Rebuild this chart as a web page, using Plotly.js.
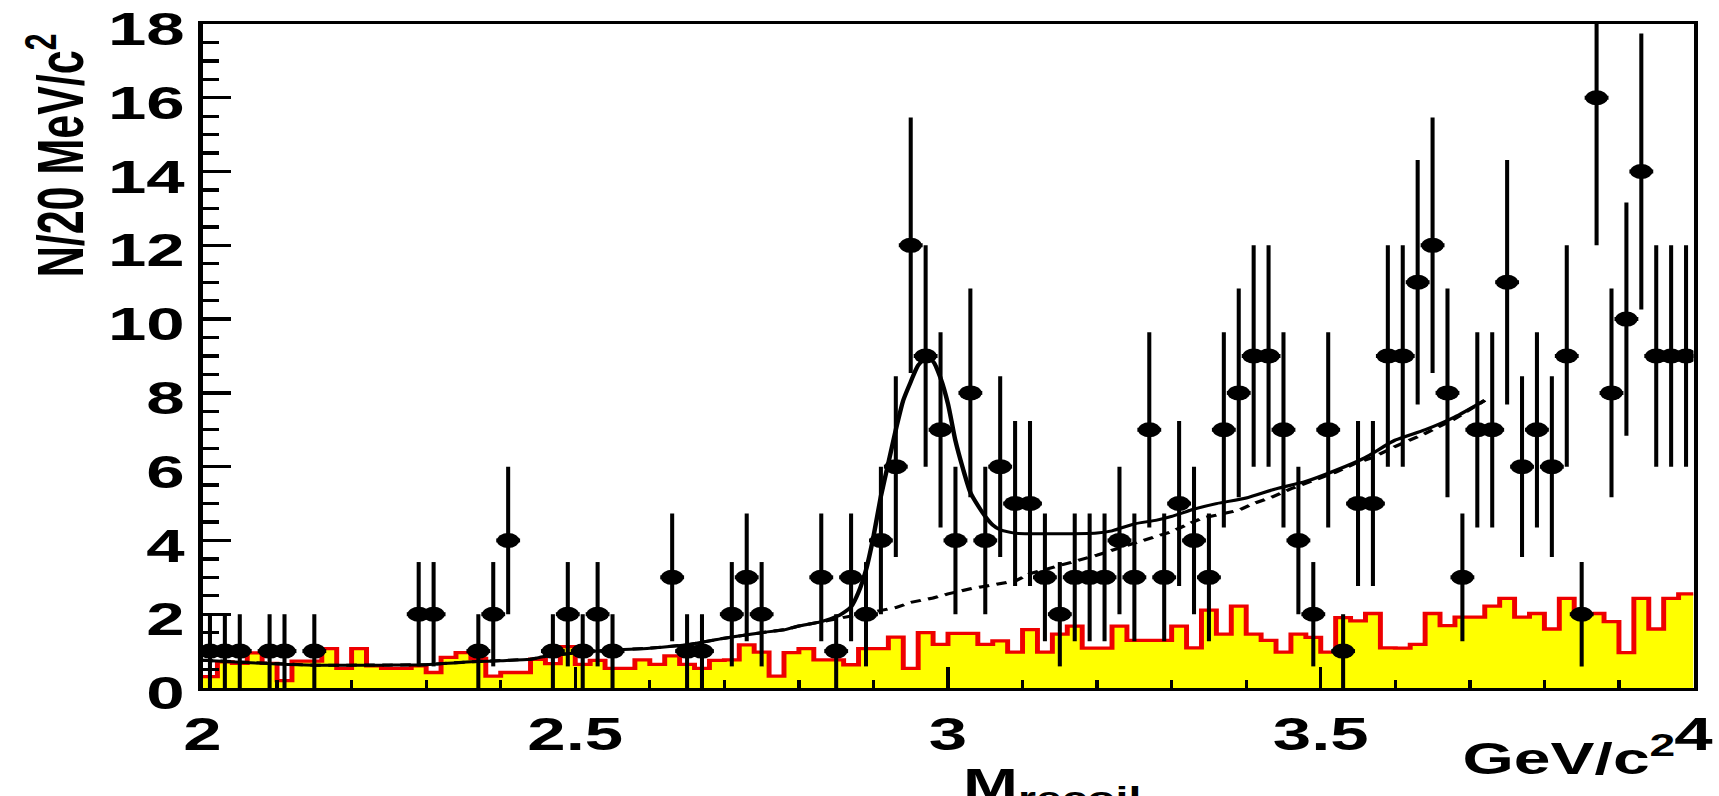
<!DOCTYPE html>
<html>
<head>
<meta charset="utf-8">
<script src="https://cdn.plot.ly/plotly-3.0.1.min.js"></script>
<style>
  html, body { margin: 0; padding: 0; background: #ffffff; overflow: hidden; }
  #wrap { width: 1719px; height: 796px; overflow: hidden; }
  #plot { width: 1146px; height: 796px; transform: scaleX(1.5); transform-origin: 0 0; }
</style>
</head>
<body>
<div id="wrap"><div id="plot"></div></div>
<script>
// ---- binning (20 MeV bins from 2.0 to 4.0 GeV/c^2) ----
const binLow = 2.0;
const binWidth = 0.02;

// ---- data: events per 20 MeV bin ----
const dataCounts = [
  1,1,1,0,1,1,0,1,0,0,
  0,0,0,0,2,2,0,0,1,2,
  4,0,0,1,2,1,2,1,0,0,
  0,3,1,1,0,2,3,2,0,0,
  0,3,1,3,2,4,6,12,9,7,
  4,8,4,6,5,5,3,2,3,3,
  3,4,3,7,3,5,4,3,7,8,
  9,9,7,4,2,7,1,5,5,9,
  9,11,12,8,3,7,7,11,6,7,
  6,9,2,16,8,10,14,9,9,9
];

// ---- yellow histogram (background estimate) per bin ----
const bkgHist = [
  0.31,0.71,0.67,0.95,0.67,0.20,0.73,0.73,1.07,0.53,
  1.07,0.60,0.53,0.53,0.60,0.42,0.83,0.96,0.80,0.32,
  0.42,0.42,0.78,0.66,1.12,0.64,0.75,0.53,0.53,0.76,
  0.64,0.87,0.64,0.53,0.75,0.76,1.17,0.97,0.32,0.96,
  1.07,0.76,0.76,0.63,1.07,1.07,1.38,0.53,1.50,1.18,
  1.48,1.48,1.18,1.28,0.97,1.58,0.97,1.46,1.68,1.08,
  1.08,1.68,1.29,1.29,1.29,1.68,1.09,2.11,1.46,2.22,
  1.46,1.29,0.97,1.46,1.37,0.97,1.91,1.82,2.02,1.09,
  1.08,1.18,2.02,1.69,1.92,1.92,2.22,2.43,1.92,2.02,
  1.60,2.43,2.02,2.02,1.80,0.96,2.43,1.60,2.43,2.55
];

// ---- fit curve (signal + background) ----
const fitX = [2.00,2.05,2.10,2.15,2.20,2.25,2.30,2.35,2.40,2.44,2.46,2.50,2.55,2.60,2.65,2.70,2.75,2.78,2.80,2.83,2.855,2.87,2.88,2.89,2.90,2.91,2.92,2.93,2.94,2.95,2.96,2.97,2.98,2.99,3.00,3.01,3.02,3.03,3.04,3.05,3.06,3.07,3.09,3.15,3.20,3.22,3.25,3.28,3.30,3.33,3.36,3.40,3.44,3.48,3.52,3.56,3.60,3.64,3.68,3.72];
const fitY = [0.75,0.70,0.65,0.62,0.62,0.62,0.63,0.70,0.74,0.78,0.86,0.95,1.03,1.08,1.17,1.35,1.50,1.58,1.68,1.80,1.98,2.20,2.60,3.20,4.10,5.20,6.10,7.00,7.80,8.30,8.75,8.93,8.85,8.40,7.70,6.70,5.95,5.30,4.95,4.65,4.42,4.29,4.20,4.18,4.20,4.26,4.45,4.55,4.65,4.85,5.00,5.15,5.40,5.60,5.90,6.25,6.72,7.00,7.35,7.80];

// ---- background-only fit (dashed) ----
const bgFitX = [2.00,2.05,2.10,2.15,2.20,2.25,2.30,2.35,2.40,2.44,2.46,2.50,2.55,2.60,2.65,2.70,2.75,2.78,2.80,2.85,2.90,2.93,2.95,2.98,3.00,3.03,3.05,3.09,3.11,3.17,3.20,3.23,3.27,3.30,3.34,3.39,3.41,3.435,3.46,3.49,3.52,3.545,3.57,3.60,3.64,3.68,3.72];
const bgFitY = [0.75,0.70,0.65,0.62,0.62,0.62,0.63,0.70,0.74,0.78,0.86,0.95,1.03,1.08,1.17,1.35,1.50,1.58,1.68,1.88,2.06,2.18,2.32,2.44,2.55,2.69,2.76,2.90,3.10,3.42,3.60,3.80,4.06,4.24,4.60,4.82,5.00,5.18,5.40,5.62,5.85,6.08,6.25,6.55,6.90,7.30,7.80];

// ---- axis tick labels ----
const xTickVals = [2, 2.5, 3, 3.5, 4];
const xTickText = ['2', '2.5', '3', '3.5', '4'];
const yTickVals = [0, 2, 4, 6, 8, 10, 12, 14, 16, 18];
const yTickText = ['0', '2', '4', '6', '8', '10', '12', '14', '16', '18'];

// ---- build traces ----
const nBins = dataCounts.length;
const edges = [];
for (let i = 0; i <= nBins; i++) edges.push(+(binLow + i * binWidth).toFixed(4));
const histY = bkgHist.concat([bkgHist[nBins - 1]]);

const ptX = [], ptY = [], ptErr = [];
for (let i = 0; i < nBins; i++) {
  if (dataCounts[i] > 0) {
    ptX.push(+(binLow + (i + 0.5) * binWidth).toFixed(4));
    ptY.push(dataCounts[i]);
    ptErr.push(Math.sqrt(dataCounts[i]));
  }
}

const FONT = 'Liberation Sans, Arial, Helvetica, sans-serif';

const traces = [
  {
    type: 'scatter', mode: 'lines', x: edges, y: histY,
    line: { shape: 'hv', color: '#ee0000', width: 3.3 },
    fill: 'tozeroy', fillcolor: '#ffff00', hoverinfo: 'skip'
  },
  {
    type: 'scatter', mode: 'lines', x: bgFitX, y: bgFitY,
    line: { color: '#000000', width: 3, dash: '7px,5px' }, hoverinfo: 'skip'
  },
  {
    type: 'scatter', mode: 'lines', x: fitX, y: fitY,
    line: { color: '#000000', width: 3, shape: 'spline', smoothing: 0.6 }, hoverinfo: 'skip'
  },
  {
    type: 'scatter', mode: 'markers', x: ptX, y: ptY,
    marker: { symbol: 'circle', size: 15, color: '#000000' },
    error_y: { type: 'data', array: ptErr, visible: true, color: '#000000', thickness: 2.7, width: 0 },
    error_x: { type: 'constant', value: 0.016, visible: true, color: '#000000', thickness: 4, width: 0 },
    hoverinfo: 'skip'
  }
];

const W = 1146, H = 796;
const mL = 134.7, mR = 16.7, mT = 24, mB = 108;
const pw = W - mL - mR, ph = H - mT - mB;

const layout = {
  width: W, height: H,
  margin: { l: mL, r: mR, t: mT, b: mB, pad: 0 },
  paper_bgcolor: '#ffffff', plot_bgcolor: '#ffffff',
  showlegend: false,
  font: { family: FONT, color: '#000000' },
  xaxis: {
    range: [2, 4], tickvals: xTickVals, ticktext: xTickText,
    ticks: 'inside', ticklen: 21, tickwidth: 2.2, tickcolor: '#000000',
    minor: { dtick: 0.1, ticks: 'inside', ticklen: 8, tickwidth: 2.2, tickcolor: '#000000' },
    showline: true, linecolor: '#000000', linewidth: 3.3, mirror: true,
    showgrid: false, zeroline: false, ticklabeloverflow: 'allow',
    ticklabelstandoff: 4,
    tickfont: { family: FONT, size: 46, weight: 'bold', color: '#000000' }
  },
  yaxis: {
    range: [0, 18], tickvals: yTickVals, ticktext: yTickText,
    ticks: 'inside', ticklen: 18.7, tickwidth: 3.3, tickcolor: '#000000',
    minor: { dtick: 0.5, ticks: 'inside', ticklen: 11.3, tickwidth: 3.3, tickcolor: '#000000' },
    showline: true, linecolor: '#000000', linewidth: 2.7, mirror: true,
    showgrid: false, zeroline: false, ticklabeloverflow: 'allow',
    ticklabelstandoff: 0, ticklabelshift: 5,
    tickfont: { family: FONT, size: 46, weight: 'bold', color: '#000000' }
  },
  annotations: [
    {
      xref: 'paper', yref: 'paper',
      x: (37 - mL) / pw, y: 1 - (31 - mT) / ph,
      xanchor: 'center', yanchor: 'top', textangle: -90, showarrow: false,
      text: 'N/20 MeV/c<sup>2</sup>',
      font: { family: FONT, size: 43, weight: 'bold', color: '#000000' }
    },
    {
      xref: 'paper', yref: 'paper',
      x: (640 - mL) / pw, y: -(758 - mT - ph) / ph,
      xanchor: 'left', yanchor: 'top', showarrow: false,
      text: 'M<sub>recoil</sub>',
      font: { family: FONT, size: 44, weight: 'bold', color: '#000000' }
    },
    {
      xref: 'paper', yref: 'paper',
      x: (1119 - mL) / pw, y: -(726 - mT - ph) / ph,
      xanchor: 'right', yanchor: 'top', showarrow: false,
      text: 'GeV/c<sup>2</sup>',
      font: { family: FONT, size: 44, weight: 'bold', color: '#000000' }
    }
  ]
};

Plotly.newPlot('plot', traces, layout, { displayModeBar: false, staticPlot: true });
</script>
</body>
</html>
